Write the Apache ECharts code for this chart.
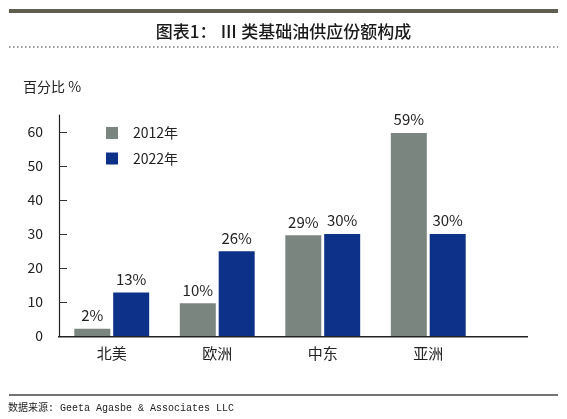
<!DOCTYPE html>
<html><head><meta charset="utf-8">
<script src="https://cdn.jsdelivr.net/npm/echarts@6/dist/echarts.min.js"></script>
<style>html,body{margin:0;padding:0;background:#fff}#c{width:567px;height:419px}</style>
</head><body><div id="c"></div>
<script>
const categories = ['北美', '欧洲', '中东', '亚洲'];
const values2012 = [2.1, 9.6, 29.6, 59.7];
const values2022 = [12.8, 24.9, 30, 30];
const labels2012 = ['2%', '10%', '29%', '59%'];
const labels2022 = ['13%', '26%', '30%', '30%'];
const seriesNames = ['2012年', '2022年'];
const yTicks = [0, 10, 20, 30, 40, 50, 60];

const chart = echarts.init(document.getElementById('c'), null, {renderer: 'canvas'});
const font = '"Noto Sans CJK SC", "Noto Sans", sans-serif';
function lbl(arr){return {show:true, position:'top', distance:6, color:'#222', fontSize:15, fontFamily:font, formatter:p=>arr[p.dataIndex]};}
chart.setOption({
  backgroundColor:'#fff',
  animation:false,
  title:{text:'图表1： Ⅲ 类基础油供应份额构成', left:'center', top:18,
    textStyle:{fontSize:17, fontWeight:500, color:'#1a1a1a', fontFamily:font}},
  legend:{left:101, top:121, orient:'vertical', itemWidth:12, itemHeight:12, itemGap:11.5,
    icon:'rect', textStyle:{fontSize:14, color:'#222', fontFamily:font, padding:[0,0,0,10]}},
  grid:{left:59, right:86, top:115, bottom:83, containLabel:false},
  xAxis:{type:'category', data:categories,
    axisLine:{show:false},
    axisTick:{show:false},
    axisLabel:{fontSize:15, color:'#222', fontFamily:font, margin:10}},
  yAxis:{type:'value', min:0, max:65, interval:10,
    splitLine:{show:false},
    axisLine:{show:true, lineStyle:{color:'#222', width:1.2}},
    axisTick:{show:true, inside:true, length:8, lineStyle:{color:'#333'}, customValues:yTicks},
    axisLabel:{fontSize:14, color:'#222', fontFamily:font, margin:16, customValues:yTicks}},
  series:[
    {name:seriesNames[0], type:'bar', data:values2012, barWidth:36, barGap:'8%',
      itemStyle:{color:'#7b8580'}, label:lbl(labels2012)},
    {name:seriesNames[1], type:'bar', data:values2022, barWidth:36,
      itemStyle:{color:'#0d3088'}, label:lbl(labels2022)}
  ],
  graphic:[
    {type:'rect', shape:{x:9, y:9, width:549, height:4}, style:{fill:'#5f5e50'}},
    {type:'line', shape:{x1:9, y1:47, x2:558, y2:47}, style:{stroke:'#777', lineWidth:1.5, lineDash:[1.5,2.5]}},
    {type:'rect', z:10, shape:{x:58, y:336, width:470, height:1.5}, style:{fill:'#222'}},
    {type:'text', left:23, top:80, style:{text:'百分比 %', fontSize:14, fill:'#222', fontFamily:font}},
    {type:'line', shape:{x1:9, y1:395, x2:558, y2:395}, style:{stroke:'#444', lineWidth:1.5}},
    {type:'text', left:8, top:403, style:{text:'数据来源: Geeta Agasbe & Associates LLC', fontSize:10, fill:'#222', fontFamily:'"Liberation Mono", "Noto Sans CJK SC", monospace'}}
  ]
});
</script></body></html>
